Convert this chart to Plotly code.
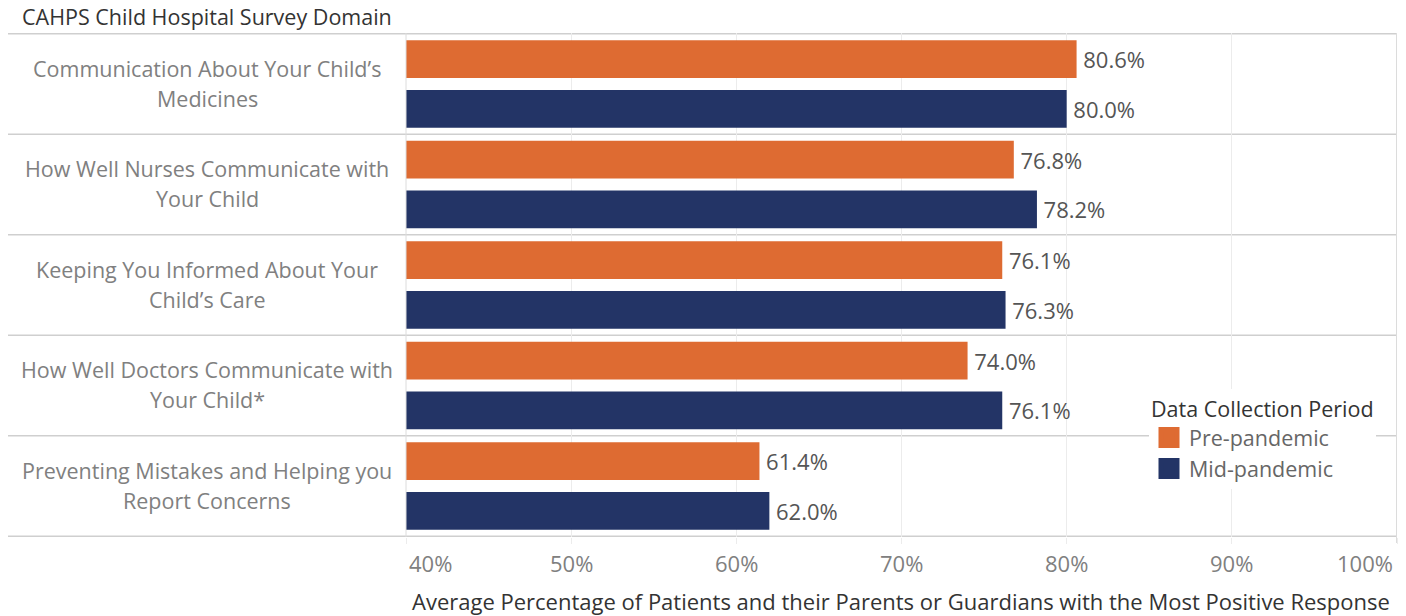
import plotly.graph_objects as go

categories = [
    "Communication About Your Child’s<br>Medicines",
    "How Well Nurses Communicate with<br>Your Child",
    "Keeping You Informed About Your<br>Child’s Care",
    "How Well Doctors Communicate with<br>Your Child*",
    "Preventing Mistakes and Helping you<br>Report Concerns",
]
pre_pandemic = [80.6, 76.8, 76.1, 74.0, 61.4]
mid_pandemic = [80.0, 78.2, 76.3, 76.1, 62.0]
series_names = ["Pre-pandemic", "Mid-pandemic"]
series_colors = ["#DE6B32", "#233466"]
tick_values = [40, 50, 60, 70, 80, 90, 100]
tick_labels = ["40%", "50%", "60%", "70%", "80%", "90%", "100%"]
header_text = "CAHPS Child Hospital Survey Domain"
x_title = "Average Percentage of Patients and their Parents or Guardians with the Most Positive Response"
legend_title = "Data Collection Period"

FONT = "Open Sans"
W, H = 1406, 616
L, R, T, B = 406, 9, 33, 79
pw = W - L - R
ph = H - T - B

fig = go.Figure()
for name, vals, col in zip(series_names, [pre_pandemic, mid_pandemic], series_colors):
    fig.add_trace(go.Bar(
        y=categories, x=vals, orientation="h", name=name,
        marker=dict(color=col, line=dict(width=0)),
        texttemplate="\u2009%{x:.1f}%", textposition="outside",
        textfont=dict(family=FONT, size=22, color="#555555"),
        cliponaxis=False, showlegend=False, legendgroup=name,
    ))
    fig.add_trace(go.Scatter(
        x=[None], y=[None], mode="markers", name=name, legendgroup=name,
        marker=dict(symbol="square", size=16, color=col, line=dict(color=col, width=5)),
        showlegend=True,
    ))

def px_x(p):
    return (p - L) / pw

def px_y(p):
    return (H - B - p) / ph

shapes = []
# row separators
for i in range(len(categories) + 1):
    shapes.append(dict(type="line", xref="paper", yref="y",
                       x0=px_x(8), x1=px_x(1396), y0=i - 0.5, y1=i - 0.5,
                       line=dict(color="#cfcfcf", width=1.5), layer="below"))
# left and right borders
shapes.append(dict(type="line", xref="paper", yref="paper", x0=0, x1=0, y0=0, y1=1,
                   line=dict(color="#dcdcdc", width=1)))
shapes.append(dict(type="line", xref="x", yref="paper", x0=100, x1=100, y0=-0.012, y1=1,
                   line=dict(color="#d0d0d0", width=1.5)))

annotations = []
for i, cat in enumerate(categories):
    lines = cat.split("<br>")
    n = len(lines)
    for j, ln in enumerate(lines):
        shift = (-(j - (n - 1) / 2)) * 30
        annotations.append(dict(xref="paper", yref="y", x=px_x(207), y=i, text=ln,
                                showarrow=False, xanchor="center", yanchor="middle",
                                yshift=shift + 1,
                                font=dict(family=FONT, size=21.5, color="#808080")))
# tick labels
for v, t in zip(tick_values, tick_labels):
    anchor = "left" if v == tick_values[0] else ("right" if v == tick_values[-1] else "center")
    annotations.append(dict(xref="x", yref="paper", x=v, y=px_y(563), text=t,
                            showarrow=False, xanchor=anchor, yanchor="middle",
                            xshift=1 if anchor == "left" else (-2 if anchor == "right" else 0),
                            font=dict(family=FONT, size=22, color="#808080")))
annotations.append(dict(xref="paper", yref="paper", x=px_x(901), y=px_y(601), text=x_title,
                        showarrow=False, xanchor="center", yanchor="middle",
                        font=dict(family=FONT, size=22, color="#333333")))
annotations.append(dict(xref="paper", yref="paper", x=px_x(20), y=px_y(17), text=header_text,
                        showarrow=False, xanchor="left", yanchor="middle",
                        font=dict(family=FONT, size=21.5, color="#333333")))

fig.update_layout(
    width=W, height=H,
    margin=dict(l=L, r=R, t=T, b=B),
    paper_bgcolor="white", plot_bgcolor="white",
    barmode="group", bargap=0.008, bargroupgap=0.24,
    font=dict(family=FONT),
    xaxis=dict(range=[40, 100], tickvals=tick_values, showticklabels=False,
               showgrid=True, gridcolor="#ececec", gridwidth=1,
               ticks="outside", ticklen=6, tickcolor="#ececec",
               zeroline=False, showline=False, fixedrange=True),
    yaxis=dict(autorange="reversed", showticklabels=False, showgrid=False,
               zeroline=False, showline=False, ticks=""),
    shapes=shapes,
    annotations=annotations,
    showlegend=True,
    legend=dict(x=px_x(1149), y=px_y(389), xanchor="left", yanchor="top",
                bgcolor="white", borderwidth=0,
                title=dict(text=legend_title, font=dict(family=FONT, size=21.5, color="#333333")),
                font=dict(family=FONT, size=21.5, color="#666666"),
                itemsizing="trace", tracegroupgap=0),
)

fig.write_html("out.html")
